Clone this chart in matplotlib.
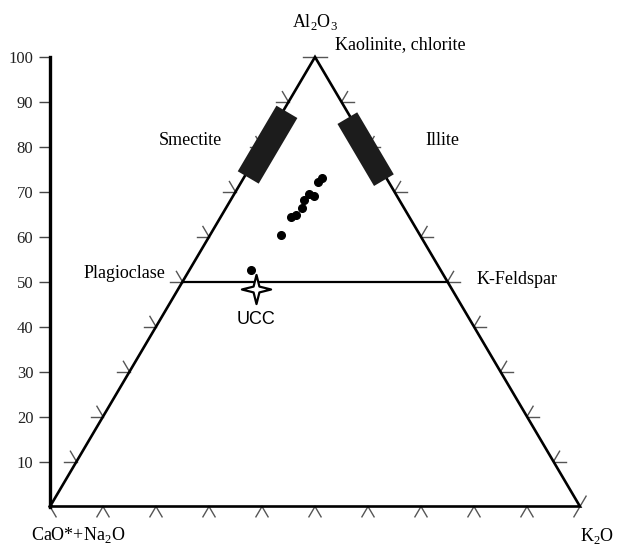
import numpy as np
import matplotlib
matplotlib.use("Agg")
import matplotlib.pyplot as plt
from matplotlib.path import Path

plt.rcParams['font.family'] = ['Liberation Serif', 'DejaVu Serif']
plt.rcParams['mathtext.fontset'] = 'custom'
plt.rcParams['mathtext.rm'] = 'Liberation Serif'

# Composiciones A-CN-K (% molar): A = Al2O3, CN = CaO*+Na2O, K = K2O
a_vals = [73.0, 72.3, 69.1, 69.5, 68.2, 66.4, 64.9, 64.3, 60.4, 52.6]
cn_vals = [12.2, 13.2, 15.7, 16.3, 17.9, 19.2, 21.2, 22.3, 26.2, 35.8]
k_vals = [14.8, 14.5, 15.2, 14.2, 13.9, 14.4, 13.9, 13.4, 13.4, 11.6]

# corteza continental superior
ucc_a, ucc_cn, ucc_k = 48.3, 37.0, 14.7

# campos de minerales de arcilla (rango de A sobre el borde)
smectite_a = [73.2, 87.8]
smectite_k = 0.8
illite_a = [72.6, 86.4]
illite_cn = 0.7

feldspar_a = 50
tick_vals = list(range(0, 101, 10))
axis_ticks = list(range(10, 101, 10))


def tern(a, k):
    # ternario -> cartesiano (x = K + A/2, y = A)
    a = np.asarray(a, dtype=float)
    k = np.asarray(k, dtype=float)
    return k + a / 2, a


fig = plt.figure(figsize=(6.17, 5.46), dpi=100)
ax = fig.add_axes([50 / 617, 39.5 / 546, 530 / 617, 449.5 / 546])
ax.set_xlim(0, 100)
ax.set_ylim(0, 100)

# eje vertical de Al2O3
for s in ['top', 'right', 'bottom']:
    ax.spines[s].set_visible(False)
ax.spines['left'].set_linewidth(2.4)
ax.spines['left'].set_bounds(0, 100)
ax.set_xticks([])
ax.set_yticks(axis_ticks)
ax.set_yticklabels([str(v) for v in axis_ticks], fontsize=12, color='#222222')
ax.tick_params(axis='y', direction='out', length=8, width=1.0, color='#444444', pad=4)

# triangulo
tx, ty = tern([0, 100, 0, 0], [0, 0, 100, 0])
ax.plot(tx, ty, color='black', lw=1.9, clip_on=False, zorder=3, solid_joinstyle='miter')

# linea plagioclasa - feldespato K
fx, fy = tern([feldspar_a, feldspar_a], [0, 100 - feldspar_a])
ax.plot(fx, fy, color='black', lw=1.6, clip_on=False, zorder=3)

# marcas de los bordes
t = 2.3
tick_kw = dict(color='#555555', lw=1.0, clip_on=False, zorder=2)
for v in tick_vals:
    # borde inferior (K = v)
    if v < 100:
        x, y = tern([0, -t], [v, v + t])
        ax.plot(x, y, **tick_kw)
    if v > 0:
        x, y = tern([0, -t], [v, v])
        ax.plot(x, y, **tick_kw)
    # borde izquierdo (K = 0, A = v)
    if v > 0:
        x, y = tern([v, v], [0, -t])
        ax.plot(x, y, **tick_kw)
    if 0 < v < 100:
        x, y = tern([v, v + t], [0, -t])
        ax.plot(x, y, **tick_kw)
    # borde derecho (CN = 0, A = v)
    if v > 0:
        x, y = tern([v, v], [100 - v, 100 - v + t])
        ax.plot(x, y, **tick_kw)
    if v < 100:
        x, y = tern([v, v + t], [100 - v, 100 - v])
        ax.plot(x, y, **tick_kw)

# campos de esmectita e illita
sx, sy = tern(smectite_a, [smectite_k, smectite_k])
ax.plot(sx, sy, color='#1c1c1c', lw=17.5, solid_capstyle='butt', zorder=4)
ik = [100 - illite_a[0] - illite_cn, 100 - illite_a[1] - illite_cn]
ix, iy = tern(illite_a, ik)
ax.plot(ix, iy, color='#1c1c1c', lw=16.5, solid_capstyle='butt', zorder=4)

# muestras
px, py = tern(a_vals, k_vals)
ax.plot(px, py, 'o', color='black', ms=5.5, zorder=5, clip_on=False)

# estrella UCC
star = Path([(0, 1), (0.2, 0.2), (1, 0), (0.2, -0.2), (0, -1),
             (-0.2, -0.2), (-1, 0), (-0.2, 0.2), (0, 1)],
            [Path.MOVETO] + [Path.LINETO] * 7 + [Path.CLOSEPOLY])
ux, uy = tern(ucc_a, ucc_k)
ax.plot(ux, uy, marker=star, ms=21, mfc='white', mec='black', mew=1.6,
        linestyle='none', zorder=6)

# textos
fs = 13
ax.text(50, 107.8, 'Al$_\\mathregular{2}$O$_\\mathregular{3}$', ha='center', va='center', fontsize=fs, clip_on=False)
ax.text(53.8, 102.7, 'Kaolinite, chlorite', ha='left', va='center', fontsize=fs)
ax.text(26.4, 81.5, 'Smectite', ha='center', va='center', fontsize=fs)
ax.text(74.0, 81.5, 'Illite', ha='center', va='center', fontsize=fs)
ax.text(21.8, 51.9, 'Plagioclase', ha='right', va='center', fontsize=fs)
ax.text(80.5, 50.4, 'K-Feldspar', ha='left', va='center', fontsize=fs)
ax.text(38.9, 41.5, 'UCC', ha='center', va='center', fontsize=fs, family='Liberation Sans')
ax.text(5.3, -6.3, 'CaO*+Na$_\\mathregular{2}$O', ha='center', va='center', fontsize=fs)
ax.text(100.0, -8.7, 'K$_\\mathregular{2}$O', ha='left', va='bottom', fontsize=fs)

fig.savefig('out.png', dpi=100)
